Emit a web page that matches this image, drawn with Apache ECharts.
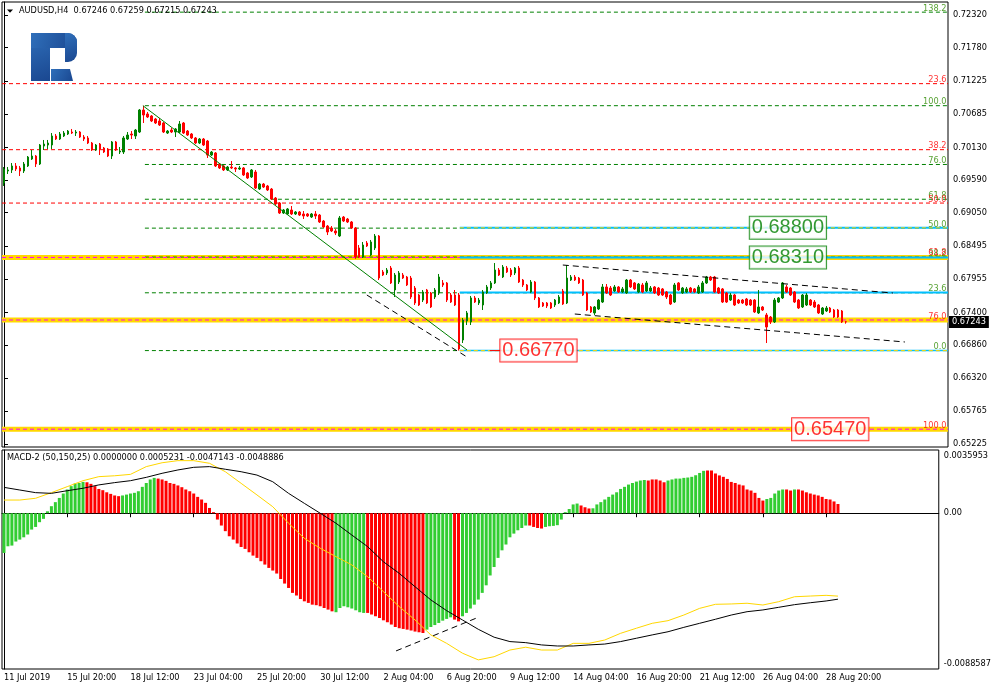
<!DOCTYPE html>
<html>
<head>
<meta charset="utf-8">
<script src="https://cdn.jsdelivr.net/npm/echarts@6.0.0/dist/echarts.min.js"></script>
<style>
html,body{margin:0;padding:0;background:#fff;}
#chart{width:994px;height:691px;}
</style>
</head>
<body>
<div id="chart"></div>
<script>
// ================= DATA =================
const symbolName = 'AUDUSD,H4';

const opens = [
0.69542,0.69740,0.69757,0.69823,0.69790,0.69740,0.69823,0.69938,0.69988,0.69856,
0.70153,0.70170,0.70170,0.70319,0.70269,0.70319,0.70352,0.70385,0.70368,0.70385,
0.70302,0.70286,0.70203,0.70087,0.70186,0.70120,0.70104,0.69988,0.70220,0.70054,
0.70054,0.70269,0.70352,0.70319,0.70385,0.70749,0.70683,0.70650,0.70600,0.70567,
0.70534,0.70368,0.70418,0.70385,0.70385,0.70534,0.70401,0.70352,0.70286,0.70203,
0.70269,0.70236,0.70004,0.70038,0.69856,0.69823,0.69757,0.69806,0.69790,0.69773,
0.69790,0.69707,0.69641,0.69723,0.69442,0.69525,0.69492,0.69442,0.69293,0.69211,
0.69045,0.69029,0.69095,0.69029,0.69062,0.69029,0.69029,0.68979,0.69029,0.69012,
0.68913,0.68830,0.68797,0.68748,0.68665,0.68979,0.68946,0.68897,0.68797,0.68467,
0.68318,0.68549,0.68351,0.68467,0.68665,0.68070,0.68053,0.68136,0.67772,0.67904,
0.68020,0.67987,0.67970,0.67805,0.67689,0.67606,0.67772,0.67722,0.67656,0.67722,
0.67888,0.67888,0.67689,0.67689,0.67689,0.66945,0.67259,0.67243,0.67640,0.67557,
0.67524,0.67722,0.67805,0.67888,0.68103,0.67987,0.68136,0.68103,0.68053,0.68136,
0.67937,0.67855,0.67739,0.67904,0.67640,0.67557,0.67557,0.67557,0.67524,0.67557,
0.67755,0.67557,0.67937,0.67987,0.67970,0.67937,0.67722,0.67491,0.67392,0.67458,
0.67573,0.67822,0.67805,0.67755,0.67822,0.67739,0.67722,0.67937,0.67888,0.67739,
0.67855,0.67755,0.67755,0.67822,0.67805,0.67789,0.67739,0.67689,0.67573,0.67888,
0.67722,0.67739,0.67805,0.67789,0.67722,0.67739,0.67888,0.67987,0.67987,0.67805,
0.67789,0.67722,0.67606,0.67689,0.67606,0.67606,0.67623,0.67606,0.67606,0.67392,
0.67491,0.67359,0.67325,0.67243,0.67573,0.67640,0.67822,0.67805,0.67739,0.67606,
0.67491,0.67524,0.67606,0.67573,0.67524,0.67375,0.67425,0.67474,0.67441,0.67441,
0.67425,0.67246];

const closes = [
0.69773,0.69757,0.69823,0.69773,0.69740,0.69856,0.69971,0.69988,0.69856,0.70170,
0.70186,0.70203,0.70319,0.70269,0.70352,0.70368,0.70401,0.70368,0.70385,0.70302,
0.70269,0.70203,0.70087,0.70170,0.70104,0.70054,0.69988,0.70220,0.70087,0.70071,
0.70286,0.70335,0.70335,0.70418,0.70749,0.70666,0.70633,0.70567,0.70534,0.70501,
0.70385,0.70401,0.70385,0.70435,0.70517,0.70368,0.70335,0.70286,0.70203,0.70269,
0.70170,0.70004,0.70054,0.69823,0.69790,0.69757,0.69806,0.69790,0.69773,0.69790,
0.69674,0.69624,0.69757,0.69459,0.69525,0.69475,0.69426,0.69277,0.69194,0.69045,
0.69095,0.69112,0.69029,0.69062,0.69012,0.68996,0.68996,0.69029,0.68996,0.68897,
0.68814,0.68731,0.68748,0.68715,0.68963,0.68913,0.68897,0.68797,0.68318,0.68318,
0.68516,0.68500,0.68566,0.68665,0.67970,0.68020,0.68103,0.67888,0.68020,0.68053,
0.67970,0.67855,0.67656,0.67557,0.67524,0.67739,0.67557,0.67491,0.67772,0.67987,
0.67855,0.67606,0.67573,0.67524,0.66796,0.67276,0.67392,0.67640,0.67573,0.67606,
0.67739,0.67822,0.67888,0.68103,0.68020,0.68152,0.68070,0.68020,0.68136,0.67904,
0.67855,0.67772,0.67904,0.67640,0.67491,0.67507,0.67507,0.67474,0.67606,0.67656,
0.67540,0.67970,0.67987,0.67937,0.67888,0.67689,0.67441,0.67408,0.67491,0.67606,
0.67822,0.67722,0.67689,0.67822,0.67739,0.67789,0.67937,0.67822,0.67789,0.67871,
0.67739,0.67888,0.67805,0.67722,0.67689,0.67689,0.67656,0.67540,0.67855,0.67772,
0.67805,0.67789,0.67739,0.67739,0.67822,0.67888,0.67987,0.67937,0.67739,0.67722,
0.67573,0.67573,0.67689,0.67524,0.67557,0.67557,0.67524,0.67524,0.67408,0.67491,
0.67441,0.67160,0.67243,0.67606,0.67640,0.67888,0.67739,0.67689,0.67573,0.67474,
0.67689,0.67689,0.67524,0.67491,0.67392,0.67474,0.67474,0.67408,0.67325,0.67325,
0.67243,0.67243];

const lows = [
0.69492,0.69690,0.69707,0.69740,0.69657,0.69707,0.69806,0.69922,0.69806,0.69839,
0.70087,0.70104,0.70104,0.70253,0.70253,0.70302,0.70335,0.70352,0.70319,0.70286,
0.70236,0.70186,0.70071,0.70071,0.70004,0.70038,0.69971,0.69938,0.70071,0.70021,
0.70021,0.70253,0.70269,0.70269,0.70368,0.70534,0.70617,0.70550,0.70517,0.70484,
0.70368,0.70352,0.70368,0.70302,0.70368,0.70352,0.70319,0.70269,0.70186,0.70186,
0.70153,0.69955,0.69988,0.69806,0.69773,0.69740,0.69740,0.69773,0.69723,0.69757,
0.69657,0.69608,0.69624,0.69442,0.69426,0.69459,0.69409,0.69260,0.69178,0.69029,
0.69029,0.69012,0.69012,0.69012,0.68996,0.68946,0.68979,0.68963,0.68946,0.68880,
0.68797,0.68681,0.68731,0.68681,0.68648,0.68897,0.68880,0.68781,0.68285,0.68301,
0.68301,0.68483,0.68334,0.68433,0.67937,0.68004,0.68020,0.67871,0.67656,0.67871,
0.67954,0.67838,0.67623,0.67524,0.67507,0.67573,0.67540,0.67474,0.67623,0.67689,
0.67822,0.67573,0.67557,0.67507,0.66770,0.66895,0.67193,0.67193,0.67557,0.67524,
0.67441,0.67706,0.67772,0.67871,0.68004,0.67970,0.68053,0.67987,0.68020,0.67888,
0.67822,0.67755,0.67722,0.67606,0.67474,0.67491,0.67474,0.67458,0.67491,0.67540,
0.67524,0.67540,0.67921,0.67921,0.67871,0.67673,0.67425,0.67392,0.67359,0.67441,
0.67557,0.67706,0.67673,0.67739,0.67722,0.67722,0.67706,0.67805,0.67772,0.67722,
0.67722,0.67739,0.67739,0.67706,0.67673,0.67673,0.67623,0.67524,0.67557,0.67755,
0.67706,0.67722,0.67722,0.67722,0.67706,0.67722,0.67871,0.67921,0.67722,0.67706,
0.67557,0.67557,0.67590,0.67507,0.67540,0.67540,0.67507,0.67507,0.67392,0.67375,
0.67425,0.66895,0.67210,0.67226,0.67557,0.67623,0.67722,0.67673,0.67557,0.67458,
0.67474,0.67507,0.67507,0.67474,0.67375,0.67359,0.67408,0.67392,0.67309,0.67309,
0.67226,0.67215];

const highs = [
0.69806,0.69806,0.69872,0.69872,0.69823,0.69889,0.69988,0.70087,0.70004,0.70186,
0.70253,0.70253,0.70368,0.70352,0.70385,0.70401,0.70418,0.70435,0.70418,0.70401,
0.70335,0.70319,0.70220,0.70186,0.70203,0.70137,0.70120,0.70236,0.70236,0.70137,
0.70319,0.70385,0.70401,0.70435,0.70765,0.70820,0.70716,0.70666,0.70617,0.70617,
0.70550,0.70418,0.70451,0.70451,0.70567,0.70550,0.70418,0.70368,0.70302,0.70286,
0.70286,0.70253,0.70071,0.70054,0.69872,0.69839,0.69823,0.69905,0.69806,0.69823,
0.69806,0.69723,0.69773,0.69757,0.69542,0.69542,0.69509,0.69459,0.69310,0.69227,
0.69112,0.69128,0.69161,0.69078,0.69078,0.69078,0.69045,0.69045,0.69078,0.69029,
0.68930,0.68847,0.68830,0.68781,0.68996,0.68996,0.68963,0.68913,0.68814,0.68516,
0.68566,0.68582,0.68599,0.68698,0.68681,0.68103,0.68136,0.68169,0.68053,0.68086,
0.68053,0.68004,0.68004,0.67838,0.67706,0.67772,0.67789,0.67739,0.67805,0.68037,
0.67937,0.67904,0.67722,0.67772,0.67722,0.67309,0.67425,0.67673,0.67673,0.67640,
0.67772,0.67855,0.67921,0.68218,0.68136,0.68185,0.68169,0.68136,0.68152,0.68169,
0.67954,0.67871,0.67937,0.67921,0.67656,0.67573,0.67573,0.67573,0.67623,0.67689,
0.67789,0.68185,0.68020,0.68020,0.67987,0.67954,0.67739,0.67507,0.67507,0.67623,
0.67871,0.67871,0.67838,0.67855,0.67838,0.67822,0.67954,0.67954,0.67904,0.67888,
0.67888,0.67921,0.67838,0.67838,0.67822,0.67805,0.67755,0.67706,0.67888,0.67904,
0.67822,0.67822,0.67822,0.67805,0.67855,0.67921,0.68004,0.68004,0.68004,0.67822,
0.67805,0.67739,0.67722,0.67706,0.67623,0.67623,0.67640,0.67623,0.67623,0.67772,
0.67507,0.67392,0.67342,0.67640,0.67656,0.67904,0.67855,0.67822,0.67755,0.67623,
0.67706,0.67722,0.67623,0.67606,0.67540,0.67491,0.67507,0.67491,0.67458,0.67458,
0.67441,0.67259];

const timeTickLabels = ['11 Jul 2019','15 Jul 20:00','18 Jul 12:00','23 Jul 04:00','25 Jul 20:00',
  '30 Jul 12:00','2 Aug 04:00','6 Aug 20:00','9 Aug 12:00','14 Aug 04:00','16 Aug 20:00',
  '21 Aug 12:00','26 Aug 04:00','28 Aug 20:00'];
const priceTicks = [0.72320,0.71780,0.71225,0.70685,0.70130,0.69590,0.69050,
  0.68495,0.67955,0.67400,0.66860,0.66320,0.65765,0.65225];

const macdParams = '(50,150,25)';
const macdHist = [
-0.00226,-0.00188,-0.00184,-0.00161,-0.00150,-0.00137,-0.00121,-0.00093,-0.00078,-0.00051,
-0.00032,0.00011,0.00040,0.00063,0.00087,0.00112,0.00135,0.00154,0.00169,0.00172,
0.00178,0.00176,0.00167,0.00154,0.00138,0.00131,0.00119,0.00110,0.00101,0.00097,
0.00101,0.00106,0.00112,0.00116,0.00125,0.00150,0.00172,0.00192,0.00201,0.00197,
0.00192,0.00184,0.00172,0.00167,0.00158,0.00148,0.00135,0.00125,0.00112,0.00093,
0.00078,0.00059,0.00030,0.00006,-0.00036,-0.00070,-0.00102,-0.00131,-0.00150,-0.00172,
-0.00192,-0.00203,-0.00222,-0.00241,-0.00254,-0.00273,-0.00292,-0.00311,-0.00326,-0.00343,
-0.00374,-0.00400,-0.00425,-0.00453,-0.00468,-0.00488,-0.00501,-0.00510,-0.00520,-0.00523,
-0.00529,-0.00539,-0.00548,-0.00558,-0.00563,-0.00539,-0.00529,-0.00535,-0.00542,-0.00552,
-0.00563,-0.00567,-0.00567,-0.00576,-0.00586,-0.00596,-0.00609,-0.00620,-0.00633,-0.00647,
-0.00654,-0.00658,-0.00662,-0.00667,-0.00673,-0.00677,-0.00681,-0.00662,-0.00647,-0.00636,
-0.00624,-0.00611,-0.00601,-0.00592,-0.00605,-0.00615,-0.00586,-0.00567,-0.00542,-0.00520,
-0.00491,-0.00453,-0.00410,-0.00354,-0.00306,-0.00254,-0.00211,-0.00178,-0.00137,-0.00116,
-0.00097,-0.00084,-0.00070,-0.00070,-0.00078,-0.00084,-0.00087,-0.00078,-0.00074,-0.00072,
-0.00068,-0.00036,0.00006,0.00024,0.00050,0.00055,0.00044,0.00034,0.00027,0.00028,
0.00050,0.00063,0.00078,0.00093,0.00106,0.00119,0.00138,0.00150,0.00163,0.00172,
0.00180,0.00186,0.00189,0.00186,0.00192,0.00192,0.00186,0.00176,0.00186,0.00192,
0.00197,0.00197,0.00201,0.00203,0.00207,0.00216,0.00229,0.00241,0.00243,0.00243,
0.00226,0.00215,0.00207,0.00195,0.00178,0.00172,0.00163,0.00158,0.00135,0.00129,
0.00116,0.00087,0.00072,0.00081,0.00087,0.00112,0.00129,0.00135,0.00135,0.00129,
0.00135,0.00135,0.00129,0.00119,0.00112,0.00106,0.00101,0.00093,0.00081,0.00078,
0.00067,0.0005231];
// colour of each histogram bar, as runs read left to right (g = green, r = red)
const macdHistColorRuns = [['g',21],['r',9],['g',9],['r',45],['g',8],['r',15],['g',7],['r',2],
  ['g',17],['r',4],['g',9],['r',3],['g',14],['r',5],['g',10],['r',15],['g',5],['r',2],['g',1],['r',11]];
const macdLineIdx = [0,4,8,12,16,20,24,28,32,36,40,44,48,52,56,60,64,68,72,76,80,84,88,92,96,100,
  104,108,112,116,120,124,128,132,136,140,144,148,152,156,160,164,168,172,176,180,184,188,192,196,
  200,204,208,211];
const macdBlack = [0.00147,0.00132,0.00117,0.00113,0.00128,0.00142,0.00161,0.00174,0.00185,0.00204,
  0.00227,0.00246,0.00261,0.00265,0.00250,0.00236,0.00217,0.00179,0.00113,0.00056,0.00000,-0.00057,
  -0.00124,-0.00190,-0.00276,-0.00342,-0.00418,-0.00493,-0.00554,-0.00607,-0.00660,-0.00705,-0.00730,
  -0.00736,-0.00749,-0.00755,-0.00755,-0.00749,-0.00744,-0.00730,-0.00711,-0.00692,-0.00674,-0.00649,
  -0.00626,-0.00603,-0.00579,-0.00560,-0.00550,-0.00535,-0.00520,-0.00509,-0.00499,-0.0048886];
const macdGold = [0.00075,0.00075,0.00085,0.00117,0.00151,0.00185,0.00208,0.00213,0.00221,0.00265,
  0.00287,0.00299,0.00299,0.00284,0.00236,0.00170,0.00104,0.00037,-0.00057,-0.00143,-0.00199,-0.00247,
  -0.00294,-0.00361,-0.00446,-0.00531,-0.00607,-0.00692,-0.00740,-0.00796,-0.00834,-0.00816,-0.00778,
  -0.00762,-0.00778,-0.00778,-0.00740,-0.00740,-0.00721,-0.00683,-0.00654,-0.00626,-0.00611,-0.00579,
  -0.00541,-0.00518,-0.00516,-0.00512,-0.00522,-0.00503,-0.00475,-0.00471,-0.00467,-0.0047143];
const macdTicks = [0.0035953, 0, -0.0088587];

// Fibonacci tools (anchor prices for 0% and 100%) and their levels
const redFibAnchors = [0.7295, 0.6547];
const redFibLevels = [23.6, 38.2, 50.0, 61.8, 76.0, 100.0];
const greenFibAnchors = [0.6677, 0.7082];
const greenFibLevels = [0.0, 23.6, 38.2, 50.0, 61.8, 76.0, 100.0, 138.2];
// horizontal price levels (blue lines) and highlighted bands
const levelLines = [0.68800, 0.68310, 0.67730, 0.66770];
const bandLevels = [0.68310, 0.67276, 0.65470];
const priceBoxes = [0.68800, 0.68310, 0.66770, 0.65470];

// ================= CHART =================
const FONT = 'DejaVu Sans';
const FS = 8.2;
const NSLOT = 237;
const XMAX = NSLOT - 0.5;
const cats = Array.from({length: NSLOT}, (_, i) => String(i));
const pMax = 0.725350, pMin = 0.651754;
const GREEN = '#008000', RED = '#FF0000', GOLD = '#FFD700', CYAN = '#00BFFF', MAGENTA = '#FF00FF';

const n = opens.length;
const candleData = opens.map((o, i) => [o, closes[i], lows[i], highs[i]]);
const histColors = [];
macdHistColorRuns.forEach(([c, k]) => { for (let j = 0; j < k; j++) histColors.push(c); });
const histData = macdHist.map((v, i) => ({value: v, itemStyle: {color: histColors[i] === 'g' ? '#32CD32' : RED}}));
const blackData = macdLineIdx.map((x, k) => [x, macdBlack[k]]);
const goldData = macdLineIdx.map((x, k) => [x, macdGold[k]]);

const series = [];
function seg(x0, p0, x1, p1, color, width, type, z, grid) {
  series.push({
    type: 'line', xAxisIndex: grid ? 3 : 1, yAxisIndex: grid ? 2 : 0,
    data: [[x0, p0], [x1, p1]], symbol: 'none', silent: true,
    lineStyle: {color: color, width: width, type: type || 'solid', cap: 'butt'}, z: z
  });
}
const DASH = [4, 3];
const fibPrice = (a, l) => a[0] + (a[1] - a[0]) * l / 100;
const nearBand = p => bandLevels.some(b => Math.abs(b - p) < 0.0003);

// bands
bandLevels.forEach(p => seg(-0.5, p, XMAX, p, GOLD, 5, 'solid', 1));
// red fib (full width); on the bands its dashes show magenta
redFibLevels.forEach(l => { const p = fibPrice(redFibAnchors, l); if (!nearBand(p)) seg(-0.5, p, XMAX, p, RED, 1, DASH, 2); });
bandLevels.forEach(p => seg(-0.5, p, XMAX, p, MAGENTA, 1, DASH, 3));
// green fib from the swing high
greenFibLevels.forEach(l => { const p = fibPrice(greenFibAnchors, l); seg(35.3, p, XMAX, p, GREEN, 1, DASH, 2); });
// blue level lines
levelLines.forEach((p, k) => seg(114.2, p, XMAX, p, CYAN, k === 3 ? 1.5 : 2, 'solid', 3));
seg(114.2, levelLines[0], XMAX, levelLines[0], GOLD, 1, DASH, 4);
seg(114.2, levelLines[3], XMAX, levelLines[3], GOLD, 1, DASH, 4);
seg(114.2, levelLines[1], XMAX, levelLines[1], CYAN, 1, DASH, 4);
// label connector
seg(121.7, levelLines[3], 124.7, levelLines[3], RED, 1, 'solid', 4);
// trend lines
seg(34.8, 0.70820, 116, 0.66780, GREEN, 1, 'solid', 6);
seg(90.9, 0.67689, 116, 0.66664, '#000', 1, [6, 4], 6);
seg(140, 0.68185, 222.7, 0.67722, '#000', 1, [6, 4], 6);
seg(143, 0.67375, 225.7, 0.66912, '#000', 1, [6, 4], 6);

// candles
series.push({
  type: 'candlestick', xAxisIndex: 0, yAxisIndex: 0, data: candleData, barWidth: 2, silent: true, z: 5,
  itemStyle: {color: GREEN, color0: RED, borderColor: GREEN, borderColor0: RED, borderWidth: 1}
});

// fib level labels on the right
const sideLabels = [];
greenFibLevels.forEach(l => sideLabels.push({value: [XMAX, fibPrice(greenFibAnchors, l)], label: {formatter: l.toFixed(1), color: '#2E8B00'}}));
redFibLevels.forEach(l => sideLabels.push({value: [XMAX, fibPrice(redFibAnchors, l)], label: {formatter: l.toFixed(1), color: RED}}));
series.push({
  type: 'scatter', xAxisIndex: 1, yAxisIndex: 0, data: sideLabels, symbolSize: 1, silent: true, clip: false, z: 7,
  itemStyle: {color: 'rgba(0,0,0,0)'},
  label: {show: true, position: [0, 0], align: 'right', verticalAlign: 'bottom', offset: [-1, 1], fontSize: FS, fontFamily: FONT}
});

// price boxes
const boxX = [196.4, 196.4, 133.9, 207];
const boxColor = [GREEN, GREEN, RED, RED];
series.push({
  type: 'scatter', xAxisIndex: 1, yAxisIndex: 0, symbolSize: 1, silent: true, clip: false, z: 8,
  itemStyle: {color: 'rgba(0,0,0,0)'},
  data: priceBoxes.map((p, k) => ({value: [boxX[k], p], label: {formatter: p.toFixed(5), color: boxColor[k], borderColor: boxColor[k]}})),
  label: {show: true, position: 'inside', fontSize: 20, fontFamily: 'Liberation Sans', backgroundColor: '#fff', borderWidth: 1, padding: [2, 2, 0, 2]}
});

// MACD panel
series.push({type: 'bar', xAxisIndex: 2, yAxisIndex: 2, data: histData, barWidth: 3, silent: true, z: 2});
series.push({type: 'line', xAxisIndex: 3, yAxisIndex: 2, data: goldData, symbol: 'none', silent: true, z: 3, lineStyle: {color: GOLD, width: 1}});
series.push({type: 'line', xAxisIndex: 3, yAxisIndex: 2, data: blackData, symbol: 'none', silent: true, z: 3, lineStyle: {color: '#000', width: 1}});
seg(99.2, -0.00783, 120.2, -0.00590, '#000', 1, [6, 4], 4, true);

const tickShow = (i) => i % 16 === 0 && i / 16 < timeTickLabels.length;
const last = n - 1;
const titleText = symbolName + '  ' + [opens[last], highs[last], lows[last], closes[last]].map(v => v.toFixed(5)).join(' ');
const lastHist = macdHist[last];
const upVal = histColors[last] === 'g' ? lastHist : 0;
const downVal = histColors[last] === 'r' ? lastHist : 0;
const macdTitle = 'MACD-2 ' + macdParams + ' ' + [upVal, downVal, macdGold[macdGold.length - 1], macdBlack[macdBlack.length - 1]].map(v => v.toFixed(7)).join(' ');

const logoFill = new echarts.graphic.LinearGradient(0, 0, 1, 1, [{offset: 0, color: '#2F6FBA'}, {offset: 1, color: '#1A4790'}]);

const option = {
  animation: false,
  backgroundColor: '#fff',
  grid: [
    {left: 2, top: 2, width: 946, height: 445, show: true, borderColor: '#000', borderWidth: 1, backgroundColor: 'rgba(0,0,0,0)', containLabel: false},
    {left: 2, top: 450, width: 946, height: 219, show: true, borderColor: '#000', borderWidth: 1, backgroundColor: 'rgba(0,0,0,0)', containLabel: false}
  ],
  xAxis: [
    {type: 'category', gridIndex: 0, data: cats, boundaryGap: true, axisLine: {show: false}, axisTick: {show: false}, axisLabel: {show: false}, splitLine: {show: false}},
    {type: 'value', gridIndex: 0, min: -0.5, max: XMAX, show: false},
    {type: 'category', gridIndex: 1, data: cats, boundaryGap: true,
      axisLine: {show: true, lineStyle: {color: '#000', width: 1}},
      axisTick: {show: true, interval: tickShow, alignWithLabel: true, length: 4, lineStyle: {color: '#000'}},
      axisLabel: {show: true, interval: tickShow, formatter: (v, i) => timeTickLabels[i / 16] || '', align: 'left', margin: 5,
        fontSize: FS, fontFamily: FONT, color: '#000'},
      splitLine: {show: false}},
    {type: 'value', gridIndex: 1, min: -0.5, max: XMAX, show: false}
  ],
  yAxis: [
    {type: 'value', gridIndex: 0, position: 'right', min: pMin, max: pMax, splitLine: {show: false},
      axisLine: {show: true, lineStyle: {color: '#000'}},
      axisTick: {show: true, customValues: priceTicks, length: 4, lineStyle: {color: '#000'}},
      axisLabel: {show: true, customValues: priceTicks, formatter: v => v.toFixed(5), margin: 5, fontSize: FS, fontFamily: FONT, color: '#000'}},
    {type: 'value', gridIndex: 0, position: 'right', min: pMin, max: pMax, splitLine: {show: false}, z: 10,
      axisLine: {show: false}, axisTick: {show: false},
      axisLabel: {show: true, customValues: [closes[last]], formatter: v => v.toFixed(5), margin: 1, backgroundColor: '#000',
        color: '#fff', padding: [2, 3, 2, 3], fontSize: FS, fontFamily: FONT}},
    {type: 'value', gridIndex: 1, position: 'right', min: macdTicks[2], max: macdTicks[0], splitLine: {show: false},
      axisLine: {show: true, lineStyle: {color: '#000'}},
      axisTick: {show: true, customValues: [0], length: 4, lineStyle: {color: '#000'}},
      axisLabel: {show: true, customValues: macdTicks, margin: 5, fontSize: FS, fontFamily: FONT, color: '#000',
        formatter: v => v === macdTicks[0] ? '{t|' + v.toFixed(7) + '}' : (v === macdTicks[2] ? '{b|' + v.toFixed(7) + '}' : '0.00'),
        rich: {t: {padding: [11, 0, 0, 0], fontSize: FS, fontFamily: FONT, color: '#000'},
               b: {padding: [0, 0, 11, 0], fontSize: FS, fontFamily: FONT, color: '#000'}}}}
  ],
  graphic: [
    {type: 'polygon', shape: {points: [[7, 9.5], [13, 9.5], [10, 12.7]]}, style: {fill: '#000'}, z: 20},
    {type: 'text', x: 19, y: 7, style: {text: titleText, font: FS + 'px "DejaVu Sans"', fill: '#000'}, z: 20},
    {type: 'text', x: 7, y: 454, style: {text: macdTitle, font: FS + 'px "DejaVu Sans"', fill: '#000'}, z: 20},
    {type: 'group', z: 20, children: [
      {type: 'rect', shape: {x: 31, y: 33, width: 19, height: 48}, style: {fill: logoFill}},
      {type: 'rect', shape: {x: 31, y: 33, width: 46, height: 15, r: [0, 9, 0, 0]}, style: {fill: logoFill}},
      {type: 'rect', shape: {x: 65, y: 33, width: 12, height: 29, r: [0, 9, 9, 0]}, style: {fill: logoFill}},
      {type: 'polygon', shape: {points: [[51, 69], [70, 69], [73, 81], [51, 81]]}, style: {fill: logoFill}}
    ]}
  ],
  series: series
};

const chart = echarts.init(document.getElementById('chart'), null, {renderer: 'canvas'});
chart.setOption(option);
</script>
</body>
</html>
